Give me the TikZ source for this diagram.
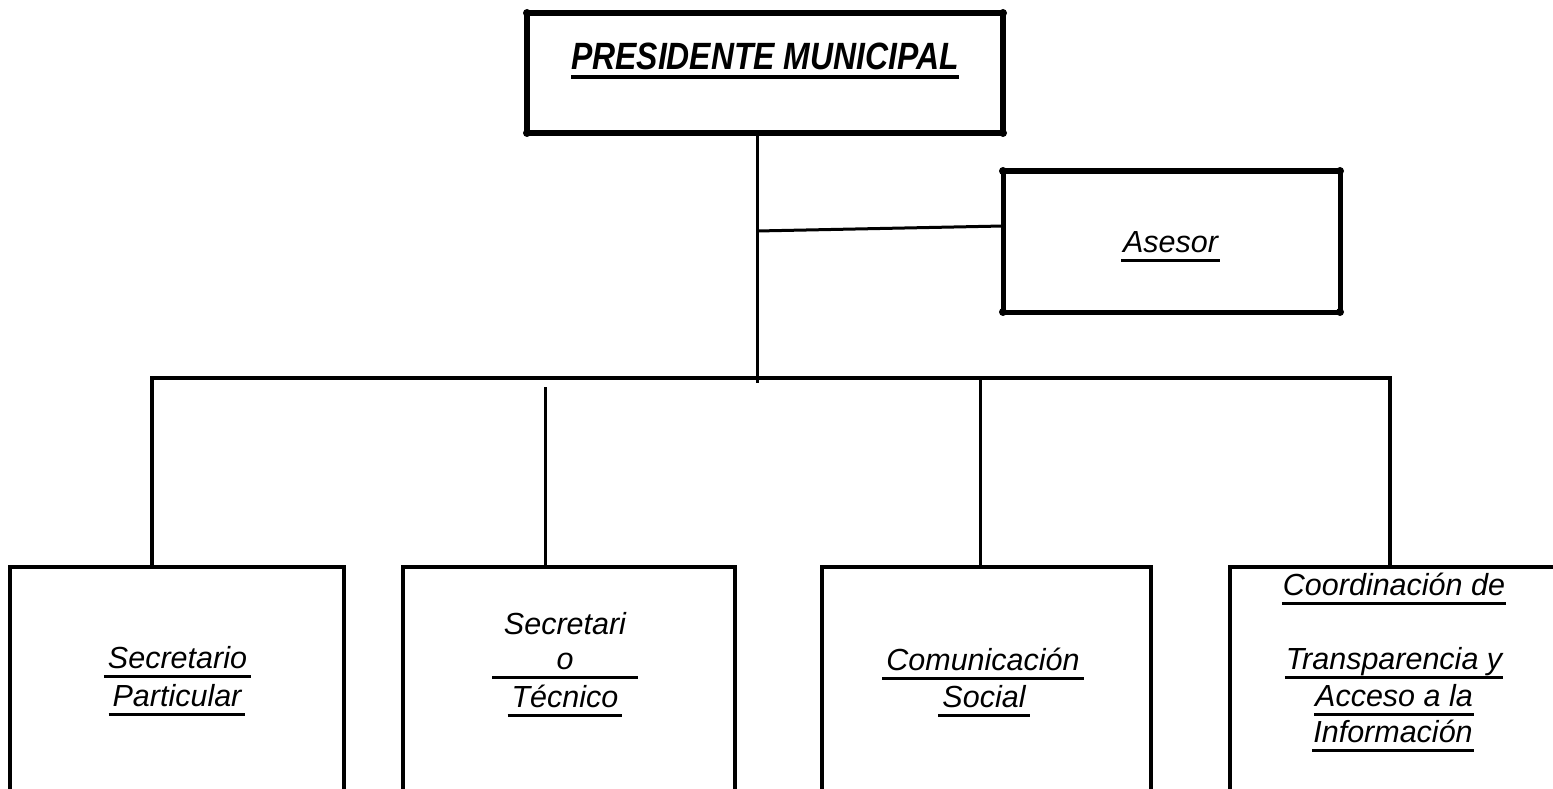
\documentclass[tikz,border=0pt]{standalone}
\usepackage{fontspec}
\setmainfont{Liberation Sans}
\newfontfamily\topfont[FakeStretch=0.84]{Liberation Sans}
% underline: optional extension on each side
\newcommand\ulbar[2][4pt]{%
  \setbox0=\hbox{#2}%
  \dimen0=\wd0 \advance\dimen0 by #1 \advance\dimen0 by #1
  \hbox to \wd0{\hskip-#1\rlap{\rule[-9.5pt]{\dimen0}{3pt}}\hskip#1\box0}}
\newcommand\ulbig[1]{%
  \setbox0=\hbox{#1}%
  \hbox to \wd0{\rlap{\rule[-9pt]{\wd0}{4pt}}\box0}}
\tikzset{
  lbl/.style={inner sep=0pt, outer sep=0pt, anchor=base,
    font=\fontsize{30.5}{36}\selectfont\itshape},
  toplbl/.style={inner sep=0pt, outer sep=0pt, anchor=base,
    font=\topfont\fontsize{38}{40}\selectfont\bfseries\itshape},
  bossbox/.style={draw, line width=6pt, inner sep=0pt, outer sep=0pt},
  aidebox/.style={draw, line width=5pt, inner sep=0pt, outer sep=0pt},
  unitbox/.style={inner sep=0pt, outer sep=0pt, minimum height=222pt},
  boxline/.style={line width=3.5pt, line join=miter},
  link/.style={line width=3pt},
  busline/.style={line width=3.5pt, line join=miter},
}
\begin{document}
\begin{tikzpicture}[x=1pt, y=-1pt]
  \useasboundingbox[fill=white] (0,0) rectangle (1553,789);

  % President box
  \node[bossbox, minimum width=476pt, minimum height=120pt] (pres) at (765,73) {};
  \foreach \c in {north west, north east, south west, south east}
    \fill (pres.\c) circle (4pt);
  \node[toplbl] (preslbl) at (765,70) {\ulbig{PRESIDENTE MUNICIPAL}};

  % Asesor box
  \node[aidebox, minimum width=337pt, minimum height=141pt] (ases) at (1171.5,241.5) {};
  \foreach \c in {north west, north east, south west, south east}
    \fill (ases.\c) circle (4pt);
  \node[lbl] (aseslbl) at (1170.5,252) {\ulbar[2pt]{Asesor}};

  % Bottom boxes (open at the bottom)
  \node[unitbox, minimum width=334pt] (b1) at (177,678) {};
  \node[unitbox, minimum width=332pt] (b2) at (569,678) {};
  \node[unitbox, minimum width=329pt] (b3) at (986.5,678) {};
  \node[unitbox, minimum width=323pt] (b4) at (1391.5,678) {};
  \draw[boxline] (b1.south west) -- (b1.north west) -- (b1.north east) -- (b1.south east);
  \draw[boxline] (b2.south west) -- (b2.north west) -- (b2.north east) -- (b2.south east);
  \draw[boxline] (b3.south west) -- (b3.north west) -- (b3.north east) -- (b3.south east);
  \draw[boxline] (b4.south west) -- (b4.north west) -- (b4.north east);

  % Connectors
  \coordinate (busL) at (152,378);
  \coordinate (busR) at (1390,378);
  \coordinate (busC) at (757,383);
  \coordinate (d2top) at (545,387);
  \coordinate (d3) at (980,378);
  \coordinate (aj) at (757,231);
  \draw[link] (pres.south -| busC) -- (busC);
  \draw[link] (aj) -- ([yshift=15.5pt]ases.west);
  \draw[busline] (b1.north -| busL) -- (busL) -- (busR) -- (busR |- b4.north);
  \draw[link] (d2top) -- (d2top |- b2.north);
  \draw[link] (d3) -- (d3 |- b3.north);

  % Box texts
  \node[lbl] (t1a) at (177.5,668) {\ulbar{Secretario}};
  \node[lbl] (t1b) at (177,706) {\ulbar{Particular}};

  \node[lbl] (t2a) at (565,634) {Secretari};
  \node[lbl] (t2b) at (565,669) {\ulbar[64.5pt]{o}};
  \node[lbl] (t2c) at (565,707) {\ulbar{Técnico}};

  \node[lbl] (t3a) at (983,670) {\ulbar{Comunicación}};
  \node[lbl] (t3b) at (984,707) {\ulbar{Social}};

  \node[lbl] (t4a) at (1394,595) {\ulbar[1pt]{Coordinación de}};
  \node[lbl] (t4b) at (1394,669) {\ulbar[1pt]{Transparencia y}};
  \node[lbl] (t4c) at (1394,706) {\ulbar[1pt]{Acceso a la}};
  \node[lbl] (t4d) at (1393,742) {\ulbar[1pt]{Información}};
\end{tikzpicture}
\end{document}
